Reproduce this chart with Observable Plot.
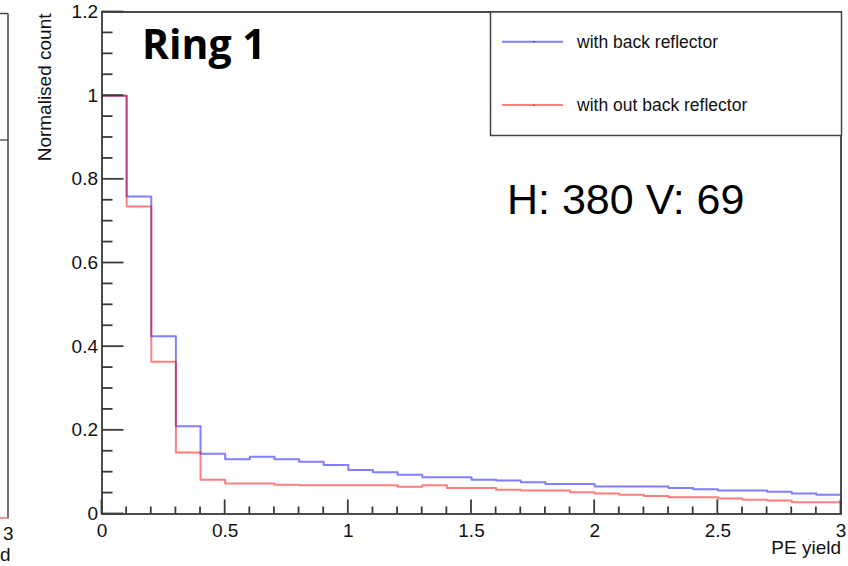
<!DOCTYPE html>
<html>
<head>
<meta charset="utf-8">
<script src="https://cdn.jsdelivr.net/npm/d3@7"></script>
<script src="https://cdn.jsdelivr.net/npm/@observablehq/plot@0.6"></script>
<style>
  html, body { margin: 0; padding: 0; background: #fff; }
  #wrap { position: relative; width: 848px; height: 566px; overflow: hidden; }
  #overlay { position: absolute; left: 0; top: 0; pointer-events: none; }
</style>
</head>
<body>
<div id="wrap"></div>
<script>
// ---- data ----
const binStarts = [0, 0.1, 0.2, 0.3, 0.4, 0.5, 0.6, 0.7, 0.8, 0.9,
                   1.0, 1.1, 1.2, 1.3, 1.4, 1.5, 1.6, 1.7, 1.8, 1.9,
                   2.0, 2.1, 2.2, 2.3, 2.4, 2.5, 2.6, 2.7, 2.8, 2.9];
const binEnd = 3.0;
const withReflector = [1.0, 0.759, 0.425, 0.210, 0.144, 0.131, 0.137, 0.131, 0.125, 0.117,
                       0.105, 0.100, 0.094, 0.088, 0.088, 0.082, 0.080, 0.076, 0.072, 0.072,
                       0.066, 0.066, 0.066, 0.062, 0.059, 0.056, 0.056, 0.053, 0.049, 0.046];
const withoutReflector = [1.0, 0.735, 0.364, 0.147, 0.082, 0.073, 0.073, 0.070, 0.069, 0.069,
                          0.069, 0.069, 0.065, 0.069, 0.062, 0.062, 0.058, 0.056, 0.056, 0.052,
                          0.049, 0.046, 0.043, 0.040, 0.040, 0.037, 0.034, 0.032, 0.028, 0.028];
const seriesNames = ["with back reflector", "with out back reflector"];
const seriesColors = ["#0000ff", "#ff0000"];
const xMajorTicks = [0, 0.5, 1, 1.5, 2, 2.5, 3];
const xMinorTicks = [0.1, 0.2, 0.3, 0.4, 0.6, 0.7, 0.8, 0.9, 1.1, 1.2, 1.3, 1.4, 1.6, 1.7, 1.8, 1.9,
                     2.1, 2.2, 2.3, 2.4, 2.6, 2.7, 2.8, 2.9];
const yMajorTicks = [0, 0.2, 0.4, 0.6, 0.8, 1, 1.2];
const yMinorTicks = [0.05, 0.1, 0.15, 0.25, 0.3, 0.35, 0.45, 0.5, 0.55, 0.65, 0.7, 0.75,
                     0.85, 0.9, 0.95, 1.05, 1.1, 1.15];
const xLabel = "PE yield";
const yLabel = "Normalised count";
const title = "Ring 1";
const note = "H: 380 V: 69";

// step table (bin edges + trailing edge)
function steps(values) {
  const pts = binStarts.map((x, i) => ({x, y: values[i]}));
  pts.push({x: binEnd, y: values[values.length - 1]});
  return pts;
}

const W = 848, H = 566;
const mL = 101.5, mR = 7.5, mT = 11.5, mB = 52.5;
const axisColor = "#3a3a3a";
const SANS = "'Liberation Sans', Arial, Helvetica, sans-serif";

// ROOT-style inward ticks, positioned through Plot's own scales
function inwardTicks(index, scales, values, dims) {
  const g = d3.create("svg:g").attr("stroke", axisColor).attr("stroke-width", 1.8).attr("fill", "none");
  const x0 = dims.marginLeft;
  const y0 = dims.height - dims.marginBottom;
  const addY = (ticks, len) => ticks.forEach(t => {
    const y = scales.y(t);
    g.append("line").attr("x1", x0).attr("x2", x0 + len).attr("y1", y).attr("y2", y);
  });
  const addX = (ticks, len) => ticks.forEach(t => {
    const x = scales.x(t);
    g.append("line").attr("x1", x).attr("x2", x).attr("y1", y0).attr("y2", y0 - len);
  });
  addY(yMinorTicks, 11);
  addY(yMajorTicks, 22);
  addX(xMinorTicks, 7);
  addX(xMajorTicks, 14);
  return g.node();
}

const chart = Plot.plot({
  width: W, height: H,
  marginLeft: mL, marginRight: mR, marginTop: mT, marginBottom: mB,
  x: {domain: [0, 3]},
  y: {domain: [0, 1.2]},
  style: {fontFamily: SANS, fontSize: "19px", color: "#111", background: "#fff"},
  marks: [
    Plot.line(steps(withReflector), {x: "x", y: "y", curve: "step-after", stroke: seriesColors[0], strokeOpacity: 0.5, strokeWidth: 2}),
    Plot.line(steps(withoutReflector), {x: "x", y: "y", curve: "step-after", stroke: seriesColors[1], strokeOpacity: 0.5, strokeWidth: 2}),
    inwardTicks,
    Plot.axisY(yMajorTicks, {tickSize: 0, tickPadding: 4, tickFormat: d => String(d), label: null, fontSize: 19}),
    Plot.axisX(xMajorTicks, {tickSize: 0, tickPadding: 9, tickFormat: d => String(d), label: null, fontSize: 19}),
    Plot.frame({stroke: axisColor, strokeWidth: 1.8}),
    Plot.text([yLabel], {frameAnchor: "top-left", rotate: -90, textAnchor: "end", dx: -65, dy: 1.5, fontSize: 19}),
    Plot.text([xLabel], {frameAnchor: "bottom-right", textAnchor: "end", dy: 40, dx: 0, fontSize: 19})
  ]
});
document.getElementById("wrap").appendChild(chart);

// ---- overlay: legend, annotations, edge of neighbouring panel ----
const ov = d3.select("#wrap").append("svg")
  .attr("id", "overlay").attr("width", W).attr("height", H);

// neighbouring panel fragment on the far left
ov.append("line").attr("x1", 8).attr("x2", 8).attr("y1", 13.5).attr("y2", 518.5).attr("stroke", "#444").attr("stroke-width", 1.5);
ov.append("line").attr("x1", 0).attr("x2", 8).attr("y1", 13.5).attr("y2", 13.5).attr("stroke", "#444").attr("stroke-width", 1.5);
ov.append("line").attr("x1", 0).attr("x2", 8).attr("y1", 140).attr("y2", 140).attr("stroke", "#444").attr("stroke-width", 1.3);
ov.append("line").attr("x1", 0).attr("x2", 8).attr("y1", 518).attr("y2", 518).attr("stroke", "#f07070").attr("stroke-width", 1.5);
ov.append("text").attr("x", 3).attr("y", 540).attr("font-family", SANS).attr("font-size", 19).attr("fill", "#111").text("3");
ov.append("text").attr("x", 0).attr("y", 561).attr("font-family", SANS).attr("font-size", 19).attr("fill", "#111").text("d");

// legend box
ov.append("rect").attr("x", 490.5).attr("y", 12).attr("width", 351).attr("height", 123.5)
  .attr("fill", "#fff").attr("stroke", "#444").attr("stroke-width", 1.5);
const legendY = [41.7, 105];
seriesNames.forEach((name, i) => {
  ov.append("line").attr("x1", 502).attr("x2", 563).attr("y1", legendY[i]).attr("y2", legendY[i])
    .attr("stroke", seriesColors[i]).attr("stroke-opacity", 0.5).attr("stroke-width", 2);
  ov.append("circle").attr("cx", 534).attr("cy", legendY[i]).attr("r", 0.6).attr("fill", "#000");
  ov.append("text").attr("x", 577).attr("y", legendY[i] + 6.3)
    .attr("font-family", SANS).attr("font-size", 17.5).attr("fill", "#111")
    .text(name);
});

// annotations
ov.append("text").attr("x", 142).attr("y", 58.5)
  .attr("font-family", "'Open Sans', 'Noto Sans', sans-serif").attr("font-weight", 700).attr("font-size", 41).attr("fill", "#000")
  .text(title);
ov.append("text").attr("x", 507).attr("y", 213.5)
  .attr("font-family", SANS).attr("font-size", 43).attr("fill", "#000")
  .text(note);
</script>
</body>
</html>
